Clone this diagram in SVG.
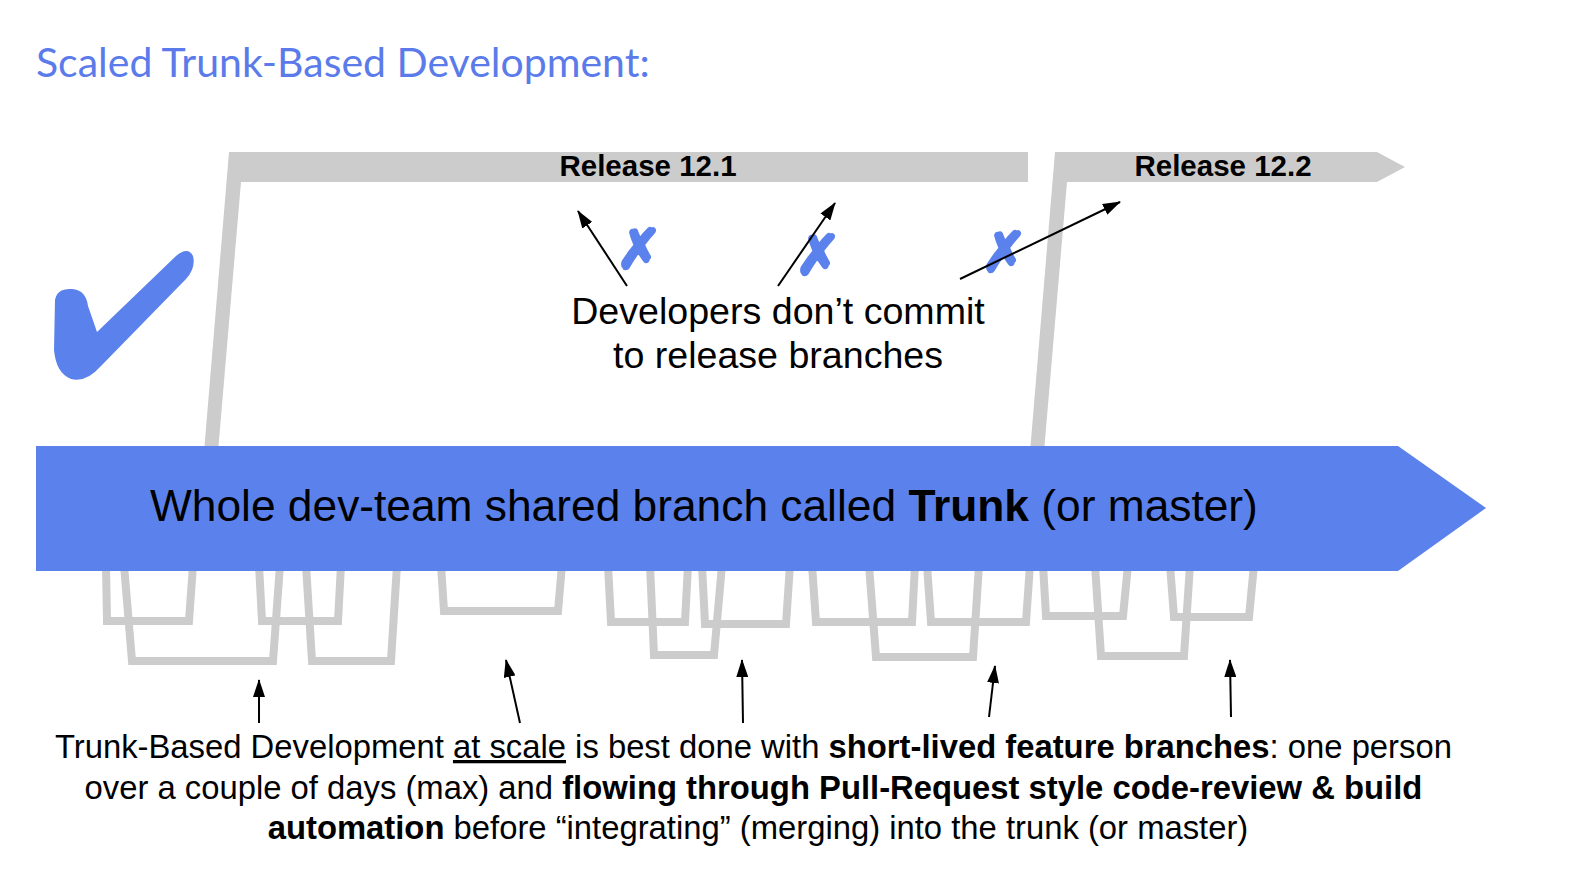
<svg xmlns="http://www.w3.org/2000/svg" width="1596" height="894" viewBox="0 0 1596 894">
<defs>
<style>
.title{font-family:Lato,"Open Sans","Noto Sans",sans-serif;font-size:41px;fill:#5B7BEA}
.sans{font-family:"Liberation Sans",Arial,Helvetica,sans-serif;fill:#000}
.rel{font-size:29.5px;font-weight:bold}
.dev{font-size:37.6px}
.trunk{font-size:44.3px}
.note{font-size:32.8px}
.b{font-weight:bold}
.gray{fill:#CCCCCC}
.fb{fill:none;stroke:#CCCCCC;stroke-width:8;stroke-linejoin:miter}
.blue{fill:#5B82EC}
.xm{font-family:"DejaVu Sans",sans-serif;font-weight:bold;font-size:54px;fill:#5B82EC;stroke:#5B82EC;stroke-width:3.5;stroke-linejoin:round;text-anchor:middle}
.arr{fill:none;stroke:#000;stroke-width:2}
</style>
<marker id="ah" viewBox="0 0 18 12" refX="17" refY="6" markerWidth="18" markerHeight="12" markerUnits="userSpaceOnUse" orient="auto">
<path d="M0,0 L18,6 L0,12 Z" fill="#000"/>
</marker>
</defs>
<rect width="1596" height="894" fill="#fff"/>
<text class="title" x="36" y="77">Scaled Trunk-Based Development:</text>

<g id="release-12-1">
<polygon class="gray" points="229,152 1028,152 1028,182 241,182 218,452 204,452"/>
<text class="sans rel" x="648" y="176" text-anchor="middle">Release 12.1</text>
</g>
<g id="release-12-2">
<polygon class="gray" points="1055,152 1377,152 1405,167 1377,182 1067,182 1044,452 1030,452"/>
<text class="sans rel" x="1223" y="176" text-anchor="middle">Release 12.2</text>
</g>

<g id="checkmark">
<path class="blue" d="M55,300 Q57,288 72,289 Q86,290 88,306 L97,332 L176,256 Q188,246 193,256 Q196,268 186,279 L101,366 Q86,383 71,379 Q56,373 54,350 Z"/>
</g>

<g id="feature-branches">
<polyline class="fb" points="106,565 107,621 189,621 193,565"/>
<polyline class="fb" points="124,565 132,661 273,661 280,565"/>
<polyline class="fb" points="259,565 262,621 338,621 341,565"/>
<polyline class="fb" points="306,565 312,661 391,661 397,565"/>
<polyline class="fb" points="441,565 444,611 558,611 562,565"/>
<polyline class="fb" points="608,565 611,622 685,622 688,565"/>
<polyline class="fb" points="650,565 654,655 714,655 722,565"/>
<polyline class="fb" points="702,565 705,624 786,624 790,565"/>
<polyline class="fb" points="812,565 816,622 912,622 915,565"/>
<polyline class="fb" points="869,565 876,657 973,657 979,565"/>
<polyline class="fb" points="927,565 931,622 1026,622 1030,565"/>
<polyline class="fb" points="1043,565 1046,616 1123,616 1128,565"/>
<polyline class="fb" points="1095,565 1101,656 1184,656 1190,565"/>
<polyline class="fb" points="1170,565 1174,617 1249,617 1254,565"/>
</g>

<g id="trunk">
<polygon class="blue" points="36,446 1398,446 1486,508 1398,571 36,571"/>
<text class="sans trunk" x="150" y="521">Whole dev-team shared branch called <tspan class="b">Trunk</tspan> (or master)</text>
</g>

<g id="no-commit">
<text class="xm" x="639" y="268">✗</text>
<text class="xm" x="818" y="274">✗</text>
<text class="xm" x="1004" y="271">✗</text>
<text class="sans dev" text-anchor="middle"><tspan x="778" y="324">Developers don’t commit</tspan><tspan x="778" y="368">to release branches</tspan></text>
</g>

<g id="connectors">
<line class="arr" marker-end="url(#ah)" x1="627" y1="286" x2="578" y2="211"/>
<line class="arr" marker-end="url(#ah)" x1="778" y1="286" x2="835" y2="203"/>
<line class="arr" marker-end="url(#ah)" x1="960" y1="279" x2="1120" y2="202"/>
<line class="arr" marker-end="url(#ah)" x1="259" y1="723" x2="259" y2="680"/>
<line class="arr" marker-end="url(#ah)" x1="520" y1="723" x2="506" y2="660"/>
<line class="arr" marker-end="url(#ah)" x1="743" y1="723" x2="742" y2="660"/>
<line class="arr" marker-end="url(#ah)" x1="989" y1="717" x2="995" y2="666"/>
<line class="arr" marker-end="url(#ah)" x1="1231" y1="717" x2="1230" y2="660"/>
</g>

<g id="caption">
<text class="sans note" text-anchor="middle">
<tspan x="758" y="758">Trunk-Based Development <tspan text-decoration="underline">at scale</tspan> is best done with <tspan class="b">short-lived feature branches</tspan>: one person</tspan>
<tspan x="758" y="799">over a couple of days (max) and <tspan class="b">flowing through Pull-Request style code-review &amp; build</tspan></tspan>
<tspan x="758" y="839"><tspan class="b">automation</tspan> before “integrating” (merging) into the trunk (or master)</tspan>
</text>
</g>
</svg>
